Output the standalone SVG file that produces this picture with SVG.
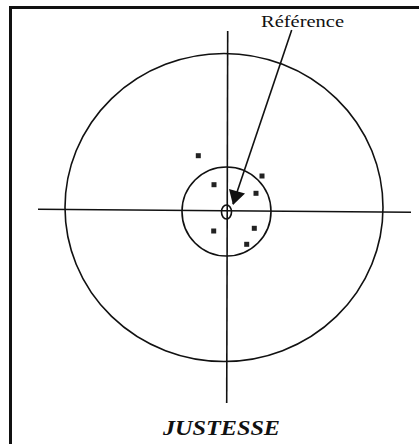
<svg xmlns="http://www.w3.org/2000/svg" width="419" height="444" viewBox="0 0 419 444">
<defs>
<style>
.ln{stroke:#111;stroke-width:1.6;fill:none}
.dot{fill:#222}
.t{font-family:"Liberation Serif","Times New Roman",serif;fill:#111}
</style>
</defs>
<rect x="0" y="0" width="419" height="444" fill="#ffffff"/>
<g id="frame">
<path d="M10.5,444 V7.5 H419" stroke="#111" stroke-width="3" fill="none"/>
</g>
<g id="target">
<ellipse class="ln" cx="224" cy="207.5" rx="159" ry="154" stroke-width="2"/>
<circle class="ln" cx="226.5" cy="211.5" r="44.5" stroke-width="2"/>
<ellipse class="ln" cx="226.5" cy="212" rx="5" ry="7"/>
</g>
<g id="axes">
<line class="ln" x1="38" y1="209.3" x2="411" y2="212.3"/>
<line class="ln" x1="227.7" y1="31" x2="226.7" y2="403"/>
</g>
<g id="points">
<rect class="dot" x="195.8" y="153.2" width="5" height="5"/>
<rect class="dot" x="259.5" y="173.5" width="5" height="5"/>
<rect class="dot" x="211.5" y="182.2" width="5" height="5"/>
<rect class="dot" x="253.5" y="190.8" width="5" height="5"/>
<rect class="dot" x="211.2" y="228.5" width="5" height="5"/>
<rect class="dot" x="251.8" y="225.8" width="5" height="5"/>
<rect class="dot" x="244.2" y="241.8" width="5" height="5"/>
</g>
<g id="connectors">
<path d="M291.7,30 L233,204" stroke="#111" stroke-width="1.6" fill="none"/>
<path d="M233,205 L229,189 L245,193.5 z" fill="#111"/>
</g>
<g id="label-reference">
<text class="t" x="261" y="26.7" font-size="17" textLength="83" lengthAdjust="spacingAndGlyphs">Référence</text>
</g>
<g id="label-justesse">
<text class="t" x="163" y="435" font-size="20" font-style="italic" font-weight="bold" textLength="117" lengthAdjust="spacingAndGlyphs">JUSTESSE</text>
</g>
</svg>
